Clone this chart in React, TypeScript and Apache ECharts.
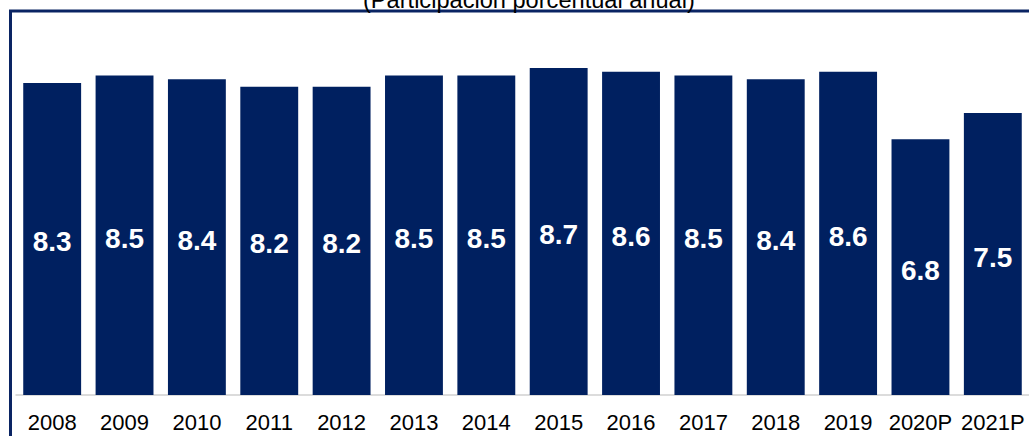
import React, { useEffect, useRef } from "react";
import * as echarts from "echarts";

const categories = ["2008", "2009", "2010", "2011", "2012", "2013", "2014", "2015", "2016", "2017", "2018", "2019", "2020P", "2021P"];
const values = [8.3, 8.5, 8.4, 8.2, 8.2, 8.5, 8.5, 8.7, 8.6, 8.5, 8.4, 8.6, 6.8, 7.5];
const titleText = "(Participación porcentual anual)";

export default function App() {
  const ref = useRef<HTMLDivElement>(null);
  useEffect(() => {
    document.body.style.margin = "0";
    const chart = echarts.init(ref.current!, null, { renderer: "svg" });
    chart.setOption({
      animation: false,
      backgroundColor: "#ffffff",
      title: {
        text: titleText,
        left: 358,
        top: -17,
        textStyle: { fontFamily: "Liberation Sans, Arial, sans-serif", fontSize: 23.6, fontWeight: "normal", color: "#000000" },
      },
      graphic: [
        {
          type: "rect",
          shape: { x: 10.5, y: 11, width: 1200, height: 600 },
          style: { fill: "none", stroke: "#0a2463", lineWidth: 3 },
          silent: true,
        },
      ],
      grid: { left: 16, width: 1014, top: 19, bottom: 41 },
      xAxis: {
        type: "category",
        data: categories,
        axisLine: { show: true, lineStyle: { color: "#d0d0d0", width: 1.5 } },
        axisTick: { show: false },
        axisLabel: {
          margin: 16,
          fontFamily: "Liberation Sans, Arial, sans-serif",
          fontSize: 22,
          color: "#000000",
          interval: 0,
        },
      },
      yAxis: { type: "value", min: 0, max: 10, show: false, splitLine: { show: false } },
      series: [
        {
          type: "bar",
          data: values,
          barCategoryGap: "20%",
          itemStyle: { color: "#002060" },
          label: {
            show: true,
            position: "inside",
            offset: [0, 3],
            color: "#ffffff",
            fontFamily: "Liberation Sans, Arial, sans-serif",
            fontWeight: "bold",
            fontSize: 28,
            formatter: (p: any) => p.value.toFixed(1),
          },
        },
      ],
    });
    return () => chart.dispose();
  }, []);
  return <div ref={ref} style={{ width: 1029, height: 436 }} />;
}
